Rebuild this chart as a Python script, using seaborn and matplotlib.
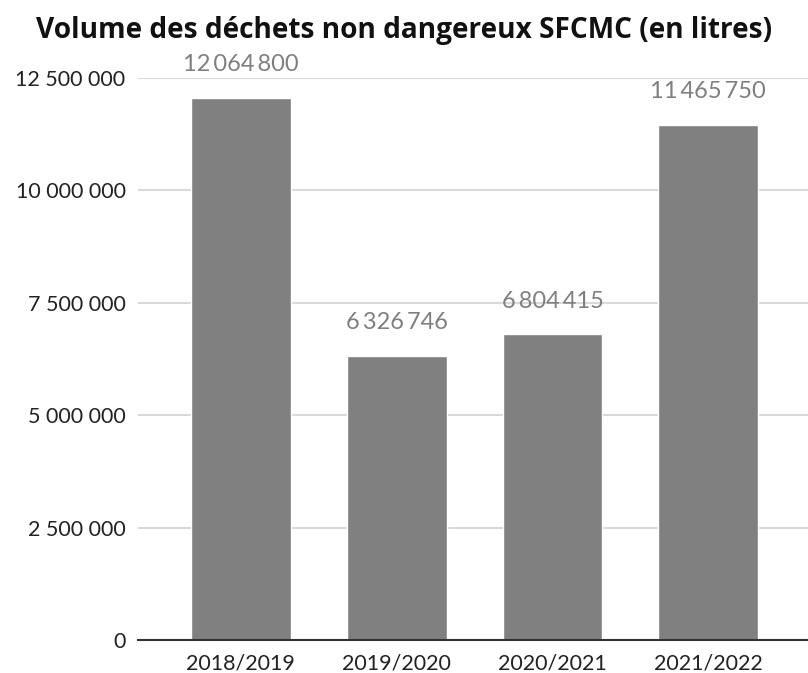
import pandas as pd
import seaborn as sns
import matplotlib.pyplot as plt
from matplotlib.ticker import FuncFormatter

# data
years = ["2018/2019", "2019/2020", "2020/2021", "2021/2022"]
volumes = [12064800, 6326746, 6804415, 11465750]
yticks = [0, 2500000, 5000000, 7500000, 10000000, 12500000]

df = pd.DataFrame({"annee": years, "volume": volumes})

sns.set_style("white")
plt.rcParams["font.family"] = ["Lato", "DejaVu Sans"]

fig = plt.figure(figsize=(8.08, 6.73), dpi=100)
ax = fig.add_axes([0.1708, 0.049, 0.8292, 0.835])

sns.barplot(data=df, x="annee", y="volume", color="#808080", saturation=1,
            width=0.64, ax=ax)

def fmt(v):
    return f"{int(v):,}".replace(",", " ")

ax.set_ylim(0, 12500000)
ax.set_yticks(yticks)
ax.yaxis.set_major_formatter(FuncFormatter(lambda v, p: fmt(v)))
ax.set_xlim(-0.66, 3.64)
ax.grid(axis="y", color="#d9d9d9", linewidth=1.5)
ax.set_axisbelow(True)
for s in ["top", "right", "left"]:
    ax.spines[s].set_visible(False)
ax.spines["bottom"].set_color("#333333")
ax.spines["bottom"].set_linewidth(1.5)
ax.spines["bottom"].set_zorder(5)
ax.tick_params(axis="both", length=0, labelsize=15.5, colors="#222222")
ax.tick_params(axis="y", pad=9)
ax.tick_params(axis="x", pad=10)
ax.set_xlabel("")
ax.set_ylabel("")

for i, v in enumerate(volumes):
    ax.annotate(fmt(v).replace(" ", "\u2009"), (i, v), xytext=(0, 16),
                textcoords="offset points", ha="center", va="bottom",
                fontsize=17, color="#7f7f7f", clip_on=False)

fig.text(0.5, 0.955, "Volume des déchets non dangereux SFCMC (en litres)",
         ha="center", va="center", fontsize=20.2, fontweight="bold",
         family=["Open Sans", "DejaVu Sans"], color="#111111")

fig.savefig("out.png", dpi=100)
